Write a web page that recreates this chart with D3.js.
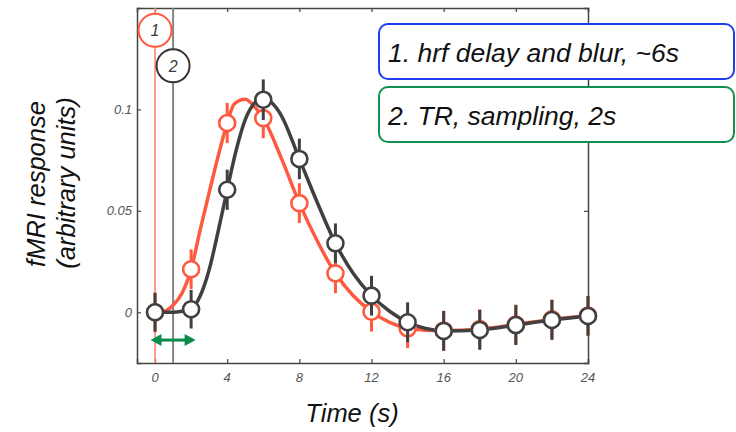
<!DOCTYPE html>
<html lang="en">
<head>
  <meta charset="UTF-8">
  <title>HRF delay and TR sampling</title>
  <script src="https://d3js.org/d3.v7.min.js"></script>
  <style>
    body {
      margin: 0;
      background: #fff;
    }
    svg text {
      font-family: "Liberation Sans", Arial, Helvetica, sans-serif;
      font-style: italic;
    }
    .tick-label {
      font-size: 13px;
      fill: #555;
    }
    .axis-title {
      font-size: 25.5px;
      fill: #111;
    }
    .note {
      font-size: 26.5px;
      fill: #111;
    }
  </style>
</head>
<body>
  <svg width="736" height="432"></svg>

  <script>
    // sampled points, every TR (2 s)
    const sampleTimes = [0, 2, 4, 6, 8, 10, 12, 14, 16, 18, 20, 22, 24];
    const hrfPoints = [0, 0.0212, 0.0933, 0.0957, 0.0538, 0.0192, 0.0003, -0.0079, -0.009, -0.0083, -0.006, -0.0035, -0.0016];
    const hrfErr = [0.0098, 0.0098, 0.0099, 0.0099, 0.0098, 0.0098, 0.0098, 0.0098, 0.0098, 0.0098, 0.0098, 0.0098, 0.0098];
    const delayedPoints = [0, 0.0015, 0.0604, 0.1048, 0.0756, 0.034, 0.0082, -0.0049, -0.0092, -0.0087, -0.0063, -0.0038, -0.0018];
    const delayedErr = [0.0095, 0.0095, 0.0099, 0.01, 0.01, 0.0098, 0.0098, 0.0098, 0.0098, 0.0098, 0.0098, 0.0098, 0.0098];

    // smooth curves
    const hrfCurveT = [0, 0.5, 1, 1.5, 2, 2.5, 3, 3.5, 4, 4.4, 5, 5.5, 6, 7, 8, 9, 10, 11, 12, 13, 14, 15, 16, 18, 20, 22, 24];
    const hrfCurveY = [0, 0.0005, 0.0035, 0.0095, 0.0212, 0.0405, 0.059, 0.077, 0.0933, 0.1028, 0.105, 0.1015, 0.0957, 0.076, 0.0538, 0.035, 0.0192, 0.008, 0.0003, -0.005, -0.0079, -0.0088, -0.009, -0.0083, -0.006, -0.0035, -0.0016];
    const delayedCurveT = [0, 1, 1.5, 2, 2.5, 3, 3.5, 4, 4.5, 5, 5.5, 6, 6.5, 7, 8, 9, 10, 11, 12, 13, 14, 15, 16, 18, 20, 22, 24];
    const delayedCurveY = [0, 0, 0.0005, 0.0015, 0.008, 0.021, 0.04, 0.0604, 0.08, 0.095, 0.103, 0.1055, 0.103, 0.097, 0.0756, 0.054, 0.034, 0.019, 0.0082, 0.0005, -0.0049, -0.008, -0.0092, -0.0087, -0.0063, -0.0038, -0.0018];

    const xTicks = [0, 4, 8, 12, 16, 20, 24];
    const yTicks = [0, 0.05, 0.1];
    const yTickLabels = ["0", "0.05", "0.1"];

    const markers = [{ t: 0, label: "1", y: 0.139 }, { t: 1, label: "2", y: 0.1215 }];
    const tr = [-0.25, 2.25];
    const trArrowY = -0.0137;
    const notes = ["1. hrf delay and blur, ~6s", "2. TR, sampling, 2s"];

    const red = "#ff5a3f";
    const dark = "#404040";

    const svg = d3.select("svg");
    const plotLeft = 137, plotRight = 588, plotTop = 8, plotBottom = 363;

    const x = d3.scaleLinear().domain([-1, 24]).range([plotLeft, plotRight]);
    const y = d3.scaleLinear().domain([-0.025, 0.15]).range([plotBottom, plotTop]);

    // axes box, ticks inward on all four sides
    const gBottom = svg.append("g").attr("transform", `translate(0,${plotBottom})`)
      .call(d3.axisBottom(x).tickValues(xTicks).tickSize(-4).tickFormat(""));
    const gTop = svg.append("g").attr("transform", `translate(0,${plotTop})`)
      .call(d3.axisTop(x).tickValues(xTicks).tickSize(-4).tickFormat(""));
    const gLeft = svg.append("g").attr("transform", `translate(${plotLeft},0)`)
      .call(d3.axisLeft(y).tickValues(yTicks).tickSize(-4).tickFormat(""));
    const gRight = svg.append("g").attr("transform", `translate(${plotRight},0)`)
      .call(d3.axisRight(y).tickValues(yTicks).tickSize(-4).tickFormat(""));
    [gBottom, gTop, gLeft, gRight].forEach(g => {
      g.selectAll(".domain").attr("stroke", "#444").attr("stroke-width", 1.5);
      g.selectAll(".tick line").attr("stroke", "#444").attr("stroke-width", 1.2);
    });

    svg.append("g").selectAll("text")
      .data(xTicks)
      .join("text")
      .attr("class", "tick-label")
      .attr("x", d => x(d))
      .attr("y", plotBottom + 19)
      .attr("text-anchor", "middle")
      .text(d => d);

    svg.append("g").selectAll("text")
      .data(yTicks)
      .join("text")
      .attr("class", "tick-label")
      .attr("x", plotLeft - 5)
      .attr("y", d => y(d) + 4.5)
      .attr("text-anchor", "end")
      .text((d, i) => yTickLabels[i]);

    // axis titles
    svg.append("text").attr("class", "axis-title")
      .attr("x", 352).attr("y", 422)
      .attr("text-anchor", "middle").text("Time (s)");
    svg.append("text").attr("class", "axis-title")
      .attr("transform", "translate(45,184) rotate(-90)")
      .attr("text-anchor", "middle").text("fMRI response");
    svg.append("text").attr("class", "axis-title")
      .attr("transform", "translate(75,183) rotate(-90)")
      .attr("text-anchor", "middle").text("(arbitrary units)");

    // event onset and sampling onset lines
    svg.append("line")
      .attr("x1", x(0)).attr("x2", x(0)).attr("y1", plotTop).attr("y2", plotBottom)
      .attr("stroke", "#ff8370").attr("stroke-width", 1.6);
    svg.append("line")
      .attr("x1", x(1)).attr("x2", x(1)).attr("y1", plotTop).attr("y2", plotBottom)
      .attr("stroke", "#858585").attr("stroke-width", 2);

    // TR arrow
    const arrowG = svg.append("g").attr("fill", "#0a8c4c").attr("stroke", "#0a8c4c");
    const ax0 = x(tr[0]), ax1 = x(tr[1]), ay = y(trArrowY);
    arrowG.append("line")
      .attr("x1", ax0 + 8).attr("x2", ax1 - 8).attr("y1", ay).attr("y2", ay)
      .attr("stroke-width", 3);
    arrowG.append("path").attr("stroke", "none")
      .attr("d", `M${ax0},${ay} L${ax0 + 11},${ay - 6} L${ax0 + 11},${ay + 6} Z`);
    arrowG.append("path").attr("stroke", "none")
      .attr("d", `M${ax1},${ay} L${ax1 - 11},${ay - 6} L${ax1 - 11},${ay + 6} Z`);

    // smooth curves
    const line = d3.line().x(d => x(d[0])).y(d => y(d[1])).curve(d3.curveMonotoneX);
    svg.append("path")
      .datum(d3.zip(hrfCurveT, hrfCurveY))
      .attr("fill", "none").attr("stroke", red).attr("stroke-width", 3.5)
      .attr("stroke-linejoin", "round").attr("d", line);
    svg.append("path")
      .datum(d3.zip(delayedCurveT, delayedCurveY))
      .attr("fill", "none").attr("stroke", dark).attr("stroke-width", 3.5)
      .attr("stroke-linejoin", "round").attr("d", line);

    function drawPoints(values, errs, color) {
      const g = svg.append("g");
      const pts = sampleTimes.map((t, i) => ({ t, v: values[i], e: errs[i] }));
      g.selectAll("line")
        .data(pts)
        .join("line")
        .attr("x1", d => x(d.t)).attr("x2", d => x(d.t))
        .attr("y1", d => y(d.v - d.e)).attr("y2", d => y(d.v + d.e))
        .attr("stroke", color).attr("stroke-width", 3);
      g.selectAll("circle")
        .data(pts)
        .join("circle")
        .attr("cx", d => x(d.t)).attr("cy", d => y(d.v))
        .attr("r", 8)
        .attr("fill", "#fff").attr("stroke", color).attr("stroke-width", 2.6);
    }
    drawPoints(hrfPoints, hrfErr, red);
    drawPoints(delayedPoints, delayedErr, dark);

    // numbered markers
    const mk = svg.append("g").selectAll("g")
      .data(markers)
      .join("g")
      .attr("transform", d => `translate(${x(d.t)},${y(d.y)})`);
    mk.append("circle").attr("r", 16.5)
      .attr("fill", "#fff")
      .attr("stroke", (d, i) => i === 0 ? red : "#333")
      .attr("stroke-width", 2);
    mk.append("text").attr("text-anchor", "middle").attr("y", 6)
      .style("font-size", "16px").attr("fill", "#3a3a3a")
      .text(d => d.label);

    // annotation boxes
    const boxColors = ["#1f3df2", "#11914f"];
    const boxTops = [24, 87];
    notes.forEach((txt, i) => {
      svg.append("rect")
        .attr("x", 379).attr("y", boxTops[i])
        .attr("width", 355).attr("height", 55)
        .attr("rx", 9).attr("ry", 9)
        .attr("fill", "#fff").attr("stroke", boxColors[i]).attr("stroke-width", 2);
      svg.append("text").attr("class", "note")
        .attr("x", 388).attr("y", boxTops[i] + 38)
        .text(txt);
    });
  </script>
</body>
</html>
